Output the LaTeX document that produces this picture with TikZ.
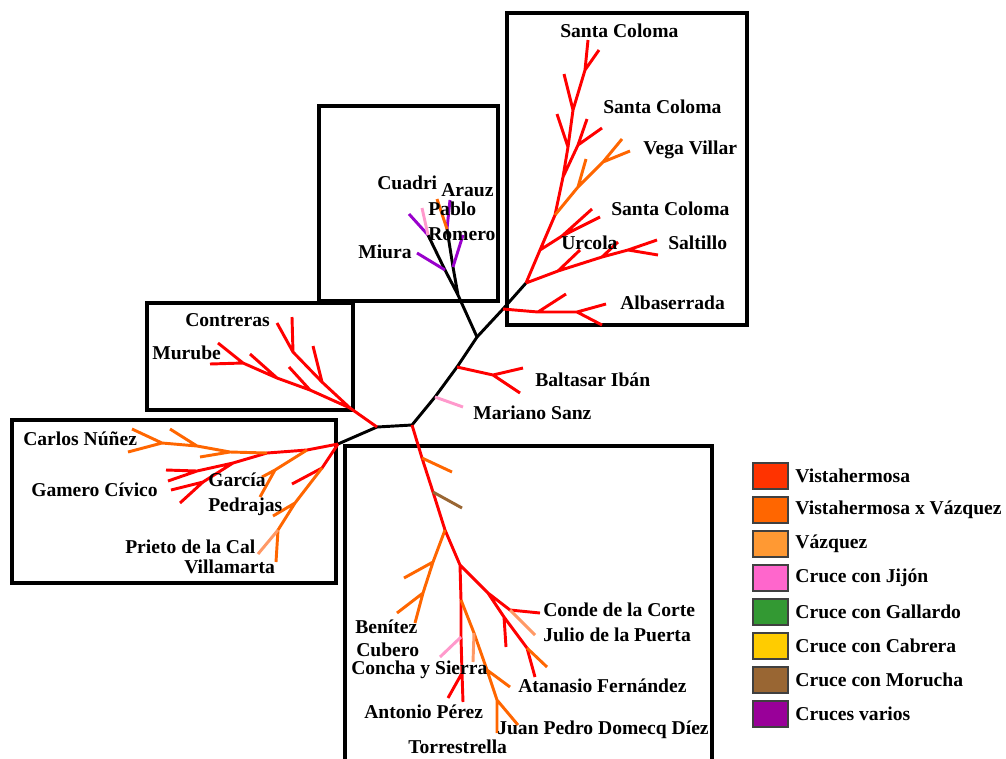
\documentclass[tikz,border=0pt]{standalone}
\usepackage{fontspec}
\setmainfont{Liberation Serif}
\usetikzlibrary{positioning}
\definecolor{vhred}{HTML}{FF0000}
\definecolor{vxorange}{HTML}{FF6600}
\definecolor{vzlight}{HTML}{FF9966}
\definecolor{jijpink}{HTML}{FF99CC}
\definecolor{morbrown}{HTML}{996633}
\definecolor{varpurple}{HTML}{9900CC}
\definecolor{keyvh}{HTML}{FF3300}
\definecolor{keyvx}{HTML}{FF6600}
\definecolor{keyvz}{HTML}{FF9933}
\definecolor{keyji}{HTML}{FF66CC}
\definecolor{keyga}{HTML}{339933}
\definecolor{keyca}{HTML}{FFCC00}
\definecolor{keymo}{HTML}{996633}
\definecolor{keyva}{HTML}{990099}

\begin{document}
\begin{tikzpicture}[x=0.75pt,y=-0.75pt,
  every node/.style={font=\fontsize{14.7}{17}\selectfont\bfseries,inner sep=0pt},
  lbl/.style={anchor=west},
  grp/.style={draw,line width=3pt},
  keybox/.style={draw=black!75,line width=0.8pt,minimum width=26.25pt,minimum height=19.5pt},
  br/.style={line width=2.2pt},
  trunk/.style={br,black},
  vh/.style={br,vhred},
  vx/.style={br,vxorange},
  vz/.style={br,vzlight},
  jij/.style={br,jijpink},
  mor/.style={br,morbrown},
  mix/.style={br,varpurple}]
\useasboundingbox[fill=white] (0,0) rectangle (1006,758);

% group boxes
\draw[grp] (507,13) rectangle (747,325);
\draw[grp] (319,106) rectangle (498,301);
\draw[grp] (147,303) rectangle (353,410);
\draw[grp] (12,420) rectangle (336,583);
\draw[grp] (345,762) -- (345,446) -- (712,446) -- (712,762);

% branch points and tips
\foreach \n/\x/\y in {j0/377/427, j1/412/425, t2/435/397, t1/457/367, t3/477/337,
    t4/503/309, t5/526/283, c0/458/295, cm/445/270, cl/428/235, cr/447/229,
    cro/453/267, k0/350/408, l0/338/444,
    miu/417/253, cla/409/214, clb/422/208, cra/437/199, crb/450/200, rom/463/235,
    k1/310/390, k2/277/378, k3/243/363, k3a/210/364, k3b/218/343, k1a/289/367,
    k2a/250/354, k4/322/382, k5/293/352, k5a/277/323, k5b/292/317, k4a/313/346,
    p1/307/450, l1/267/453, n1/230/452, n2/197/446, n3/162/443, n3a/132/429,
    n3b/128/452, n2a/170/429, n1a/200/457, g1/233/463, g2/197/471, g2a/166/470,
    g2b/168/481, g3/203/482, g3a/171/490, g3b/180/503, p2/275/470, p2a/260/497,
    p2b/262/477, r1/322/468, r1a/292/484, v1/295/503, v1a/273/516, v2/278/530,
    v2a/276/562, v2b/258/554,
    s1/540/250, s2/555/215, s3/563/177, s4/568/147, s5/573/110, s6/585/70,
    s6a/588/40, s6b/599/50, s5a/564/74, s4a/557/114, s7/578/145, s7a/587/119,
    s7b/602/128, o1/578/187, o2/603/162, o2a/622/139, o2b/630/151, o1a/586/159,
    s8/562/236, s8a/600/217, s8b/592/209, u1/558/271, u2/602/257, u3/628/250,
    u3a/657/240, u3b/658/255, u1a/580/250, u2a/618/242, a1/538/312, a2/577/312,
    a2a/606/304, a2b/602/325, a1a/566/294,
    b1/493/375, b1a/523/368, b1b/520/393, mar/463/407,
    d1/422/458, d2/433/492, d3/445/530, d4/460/565, d5/488/593, d6/504/617,
    d7/527/648, d7a/535/677, d7b/547/667, d6a/506/647, e1/510/610, e1a/540/613,
    e1b/535/635, d1a/452/472, d2a/462/508, f1/433/562, f2/423/593, f2a/415/623,
    f1a/404/578, f2b/397/613, h1/461/600, h2/461/637, h3/462/673, h4/463/702,
    h2a/440/657, h3a/448/698, i1/474/633, i2/487/670, i3/497/700, i3a/497/733,
    i1a/473/662, i2a/510/687, i3b/518/725}
  \coordinate (\n) at (\x,\y);

% backbone
\draw[trunk] (l0) -- (j0) -- (j1) -- (t2) -- (t1) -- (t3) -- (t4) -- (t5);
\draw[trunk] (t3) -- (c0) -- (cm) -- (cl) (c0) -- (cro) -- (cr);
\draw[vh] (j0) -- (k0);

% Cuadri, Miura, Pablo Romero
\draw[mix] (cm) -- (miu) (cl) -- (cla) (cr) -- (crb) (cro) -- (rom);
\draw[jij] (cl) -- (clb);
\draw[vx] (cr) -- (cra);

% Contreras, Murube
\draw[vh] (k0) -- (k1) -- (k2) -- (k3) -- (k3a) (k3) -- (k3b) (k1) -- (k1a)
  (k2) -- (k2a) (k0) -- (k4) -- (k5) -- (k5a) (k5) -- (k5b) (k4) -- (k4a);

% Carlos Nunez .. Villamarta
\draw[vh] (l0) -- (p1) -- (l1) -- (g1) -- (g2) -- (g2a) (g2) -- (g2b)
  (g1) -- (g3) -- (g3a) (g3) -- (g3b) (l0) -- (r1) -- (r1a);
\draw[vx] (l1) -- (n1) -- (n2) -- (n3) -- (n3a) (n3) -- (n3b) (n2) -- (n2a)
  (n1) -- (n1a) (p1) -- (p2) -- (p2a) (p2) -- (p2b)
  (r1) -- (v1) -- (v2) -- (v2a) (v1) -- (v1a);
\draw[vz] (v2) -- (v2b);

% Santa Coloma group
\draw[vh] (t5) -- (s1) -- (s2) -- (s3) -- (s4) -- (s5) -- (s6) -- (s6a)
  (s6) -- (s6b) (s5) -- (s5a) (s4) -- (s4a) (s3) -- (s7) -- (s7a) (s7) -- (s7b)
  (s1) -- (s8) -- (s8a) (s8) -- (s8b)
  (t5) -- (u1) -- (u2) -- (u3) -- (u3a) (u3) -- (u3b) (u1) -- (u1a) (u2) -- (u2a)
  (t4) -- (a1) -- (a2) -- (a2a) (a2) -- (a2b) (a1) -- (a1a);
\draw[vx] (s2) -- (o1) -- (o2) -- (o2a) (o2) -- (o2b) (o1) -- (o1a);

% Baltasar Iban, Mariano Sanz
\draw[vh] (t1) -- (b1) -- (b1a) (b1) -- (b1b);
\draw[jij] (t2) -- (mar);

% Domecq group
\draw[vh] (j1) -- (d1) -- (d2) -- (d3) -- (d4) -- (d5) -- (d6) -- (d7) -- (d7a)
  (d5) -- (e1) -- (e1a) (d6) -- (d6a)
  (d4) -- (h1) -- (h2) -- (h3) -- (h4) (h3) -- (h3a);
\draw[vx] (d7) -- (d7b) (d1) -- (d1a)
  (d3) -- (f1) -- (f2) -- (f2a) (f1) -- (f1a) (f2) -- (f2b)
  (h1) -- (i1) -- (i2) -- (i3) -- (i3a) (i2) -- (i2a) (i3) -- (i3b);
\draw[vz] (e1) -- (e1b) (i1) -- (i1a);
\draw[jij] (h2) -- (h2a);
\draw[mor] (d2) -- (d2a);

% labels
\node[lbl] (sc1) at (560,31) {Santa Coloma};
\node[lbl] (sc2) at (603,107) {Santa Coloma};
\node[lbl] (vega) at (643,150) {Vega Villar};
\node[lbl] (sc3) at (611,209) {Santa Coloma};
\node[lbl] (urcola) at (561,243) {Urcola};
\node[lbl] (saltillo) at (668,243) {Saltillo};
\node[lbl] (albas) at (620,303) {Albaserrada};
\node[lbl] (cuadri) at (377,183) {Cuadri};
\node[lbl] (arauz) at (441,190) {Arauz};
\node[lbl] (pablo) at (428,209) {Pablo};
\node[lbl] (romero) at (428,234) {Romero};
\node[lbl] (miura) at (358,252) {Miura};
\node[lbl] (contreras) at (185,320) {Contreras};
\node[lbl] (murube) at (152,353) {Murube};
\node[lbl] (baltasar) at (535,380) {Baltasar Ibán};
\node[lbl] (mariano) at (473,413) {Mariano Sanz};
\node[lbl] (carlos) at (23,439) {Carlos Núñez};
\node[lbl] (gamero) at (31,490) {Gamero Cívico};
\node[lbl] (garcia) at (208,480) {García};
\node[lbl] (pedrajas) at (208,507) {Pedrajas};
\node[lbl] (prieto) at (125,547) {Prieto de la Cal};
\node[lbl] (villamarta) at (184,567) {Villamarta};
\node[lbl] (conde) at (543,610) {Conde de la Corte};
\node[lbl] (julio) at (543,635) {Julio de la Puerta};
\node[lbl] (benitez) at (355,627) {Benítez};
\node[lbl] (cubero) at (356,650) {Cubero};
\node[lbl] (concha) at (351,670) {Concha y Sierra};
\node[lbl] (atanasio) at (518,686) {Atanasio Fernández};
\node[lbl] (antonio) at (364,712) {Antonio Pérez};
\node[lbl] (domecq) at (497,730) {Juan Pedro Domecq Díez};
\node[lbl] (torre) at (408,747) {Torrestrella};

% key
\foreach \c/\t [count=\i from 0] in {keyvh/Vistahermosa, keyvx/Vistahermosa x Vázquez,
    keyvz/Vázquez, keyji/Cruce con Jijón, keyga/Cruce con Gallardo,
    keyca/Cruce con Cabrera, keymo/Cruce con Morucha, keyva/Cruces varios} {
  \node[keybox,fill=\c] (box\i) at (770.5,{476+34*\i}) {};
  \node[lbl,right=5pt of box\i] (key\i) {\t};
}
\end{tikzpicture}
\end{document}
